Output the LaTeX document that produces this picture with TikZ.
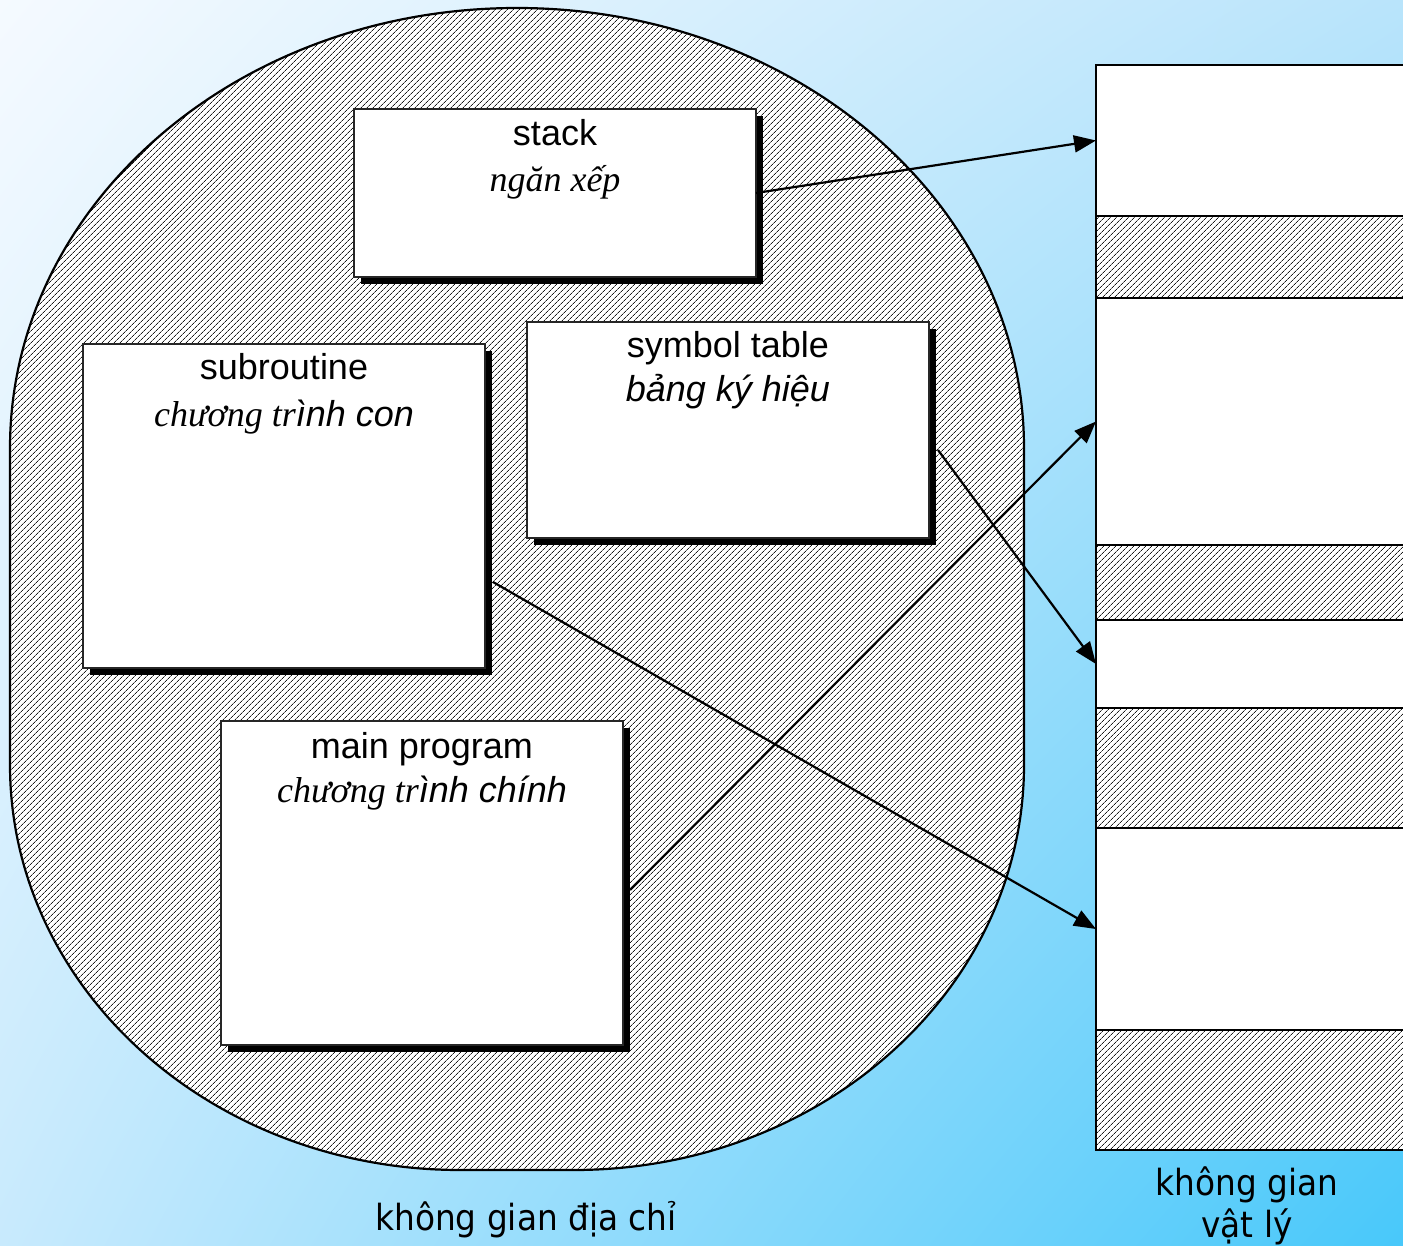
\documentclass[tikz,border=0pt]{standalone}
\usepackage{fontspec}
\setmainfont{Liberation Sans}
\newfontfamily\tnrfont{Liberation Serif}
\newfontfamily\tahomafont[FakeStretch=0.91]{DejaVu Sans}
\usetikzlibrary{arrows.meta,patterns.meta,shadows,shadings,calc}
\definecolor{bgUL}{RGB}{245,250,255}
\definecolor{bgUR}{RGB}{185,228,251}
\definecolor{bgLL}{RGB}{200,234,253}
\definecolor{bgLR}{RGB}{72,200,250}
\begin{document}
\begin{tikzpicture}[x=1pt,y=-1pt,
  every node/.style={inner sep=0pt,outer sep=0pt},
  hatch/.style={preaction={fill=white},pattern={Lines[angle=45,distance=4pt,line width=0.65pt]},pattern color=black!90},
  progbox/.style={draw=black!85,line width=1.8pt,fill=white,
    general shadow={fill=black,shadow xshift=7pt,shadow yshift=-7pt}},
  memwhite/.style={draw=black,line width=2.2pt,fill=white,minimum width=330pt,anchor=north west},
  memhatch/.style={draw=black,line width=2.2pt,hatch,minimum width=330pt,anchor=north west},
  txt/.style={anchor=base,font=\fontsize{36}{43}\selectfont},
  lbl/.style={anchor=base,font=\tahomafont\fontsize{36}{43}\selectfont},
  conn/.style={line width=2.2pt,-{Triangle[length=22pt,width=17pt]}}]
\useasboundingbox (0,0) rectangle (1403,1246);
\clip (0,0) rectangle (1403,1246);
\shade[upper left=bgUL,upper right=bgUR,lower left=bgLL,lower right=bgLR] (0,0) rectangle (1403,1246);
% address space
\draw[line width=2.2pt,hatch] (10,448) .. controls (10,205) and (237,8) .. (517,8)
  .. controls (797,8) and (1024,205) .. (1024,448) -- (1024,765)
  .. controls (1024,988.7) and (822.5,1170) .. (574,1170) -- (460,1170)
  .. controls (211.5,1170) and (10,988.7) .. (10,765) -- cycle;
% program boxes
\node[progbox,minimum width=402pt,minimum height=168pt] (stack) at (555,193) {};
\node[progbox,minimum width=402pt,minimum height=324pt] (subr) at (284,506) {};
\node[progbox,minimum width=402pt,minimum height=216pt] (symt) at (728,430) {};
\node[progbox,minimum width=402pt,minimum height=324pt] (mainp) at (422,883) {};
\node[txt] (stackA) at (555,146) {stack};
\node[txt] (stackB) at (555,192) {\tnrfont\itshape ngăn xếp};
\node[txt] (subrA) at (284,380) {subroutine};
\node[txt] (subrB) at (284,426) {{\tnrfont\itshape chương tr}{\itshape ình con}};
\node[txt] (symtA) at (728,358) {symbol table};
\node[txt] (symtB) at (728,402) {\itshape bảng ký hiệu};
\node[txt] (mainA) at (422,758) {main program};
\node[txt] (mainB) at (422,802) {{\tnrfont\itshape chương tr}{\itshape ình chính}};
% physical memory
\node[memwhite,minimum height=151pt] (m1) at (1096,65) {};
\node[memhatch,minimum height=82pt] (m2) at (1096,216) {};
\node[memwhite,minimum height=247pt] (m3) at (1096,298) {};
\node[memhatch,minimum height=75pt] (m4) at (1096,545) {};
\node[memwhite,minimum height=88pt] (m5) at (1096,620) {};
\node[memhatch,minimum height=120pt] (m6) at (1096,708) {};
\node[memwhite,minimum height=202pt] (m7) at (1096,828) {};
\node[memhatch,minimum height=120pt] (m8) at (1096,1030) {};
% connectors
\draw[conn] (stack.east) -- (m1.west);
\draw[conn] ($(mainp.east)+(7,7)$) -- (m3.west);
\draw[conn] ($(symt.east)+(9,20)$) -- (m5.west);
\draw[conn] ($(subr.east)+(8,76)$) -- (m7.west);
% labels
\node[lbl] (addr) at (526,1230) {không gian địa chỉ};
\node[lbl] (phys1) at (1247,1195) {không gian};
\node[lbl] (phys2) at (1247,1237) {vật lý};
\end{tikzpicture}
\end{document}
